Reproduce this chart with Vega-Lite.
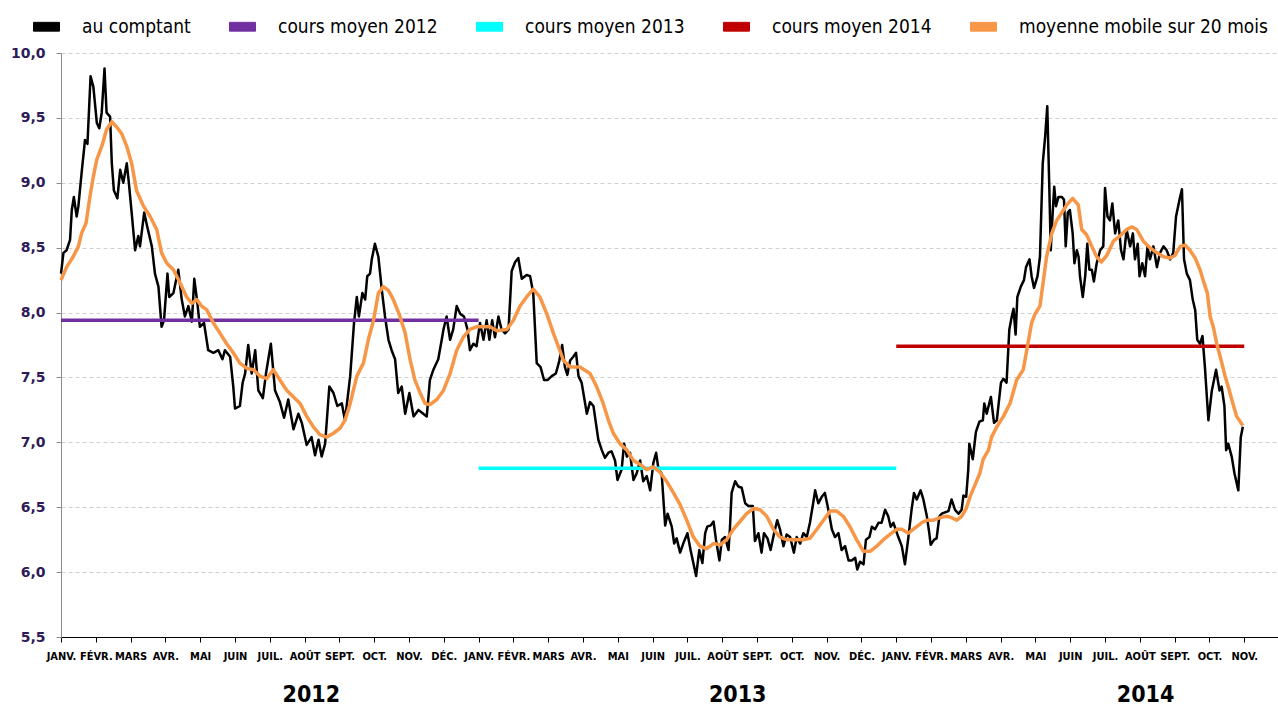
{
"$schema": "https://vega.github.io/schema/vega-lite/v6.json",
"width": 1217, "height": 584,
"autosize": {"type": "none"},
"padding": {"left": 61, "top": 53, "right": 0, "bottom": 69},
"background": "white",
"config": {"view": {"stroke": null}, "font": "DejaVu Sans",
"legend": {"orient": "none", "legendX": -28, "legendY": -40, "direction": "horizontal", "columns": 5, "title": null,
"symbolType": "M-1,-0.34H1V0.34H-1Z", "symbolSize": 676, "symbolStrokeColor": "#000000", "symbolStrokeWidth": 1,
"labelFont": "DejaVu Sans Condensed", "labelFontSize": 19, "labelColor": "#000000",
"labelOffset": 22, "columnPadding": 36, "labelLimit": 400}},
"datasets": {
"comptant": [
{"mois":0,"cours":8.30},{"mois":0.07,"cours":8.46},{"mois":0.16,"cours":8.48},{"mois":0.26,"cours":8.56},{"mois":0.31,"cours":8.79},{"mois":0.37,"cours":8.89},{"mois":0.45,"cours":8.74},{"mois":0.50,"cours":8.82},{"mois":0.59,"cours":9.07},{"mois":0.69,"cours":9.33},{"mois":0.76,"cours":9.30},{"mois":0.81,"cours":9.59},{"mois":0.85,"cours":9.82},{"mois":0.93,"cours":9.74},{"mois":1.03,"cours":9.46},{"mois":1.10,"cours":9.42},{"mois":1.17,"cours":9.54},{"mois":1.25,"cours":9.88},{"mois":1.31,"cours":9.54},{"mois":1.41,"cours":9.51},{"mois":1.46,"cours":9.15},{"mois":1.52,"cours":8.94},{"mois":1.62,"cours":8.88},{"mois":1.70,"cours":9.10},{"mois":1.79,"cours":9.00},{"mois":1.89,"cours":9.15},{"mois":1.95,"cours":9.00},{"mois":2.03,"cours":8.77},{"mois":2.13,"cours":8.48},{"mois":2.22,"cours":8.59},{"mois":2.27,"cours":8.51},{"mois":2.39,"cours":8.77},{"mois":2.48,"cours":8.66},{"mois":2.61,"cours":8.51},{"mois":2.70,"cours":8.30},{"mois":2.80,"cours":8.20},{"mois":2.89,"cours":7.89},{"mois":2.96,"cours":7.94},{"mois":3.06,"cours":8.30},{"mois":3.11,"cours":8.12},{"mois":3.23,"cours":8.15},{"mois":3.37,"cours":8.33},{"mois":3.47,"cours":8.10},{"mois":3.56,"cours":7.97},{"mois":3.66,"cours":8.05},{"mois":3.76,"cours":7.93},{"mois":3.83,"cours":8.26},{"mois":3.92,"cours":8.07},{"mois":3.99,"cours":7.89},{"mois":4.11,"cours":7.92},{"mois":4.23,"cours":7.71},{"mois":4.38,"cours":7.69},{"mois":4.52,"cours":7.71},{"mois":4.64,"cours":7.64},{"mois":4.71,"cours":7.71},{"mois":4.86,"cours":7.66},{"mois":4.95,"cours":7.43},{"mois":5.00,"cours":7.26},{"mois":5.14,"cours":7.28},{"mois":5.22,"cours":7.46},{"mois":5.29,"cours":7.53},{"mois":5.38,"cours":7.75},{"mois":5.48,"cours":7.53},{"mois":5.58,"cours":7.71},{"mois":5.67,"cours":7.40},{"mois":5.80,"cours":7.34},{"mois":5.89,"cours":7.53},{"mois":6.03,"cours":7.76},{"mois":6.15,"cours":7.40},{"mois":6.29,"cours":7.31},{"mois":6.41,"cours":7.19},{"mois":6.53,"cours":7.33},{"mois":6.68,"cours":7.10},{"mois":6.82,"cours":7.22},{"mois":6.92,"cours":7.15},{"mois":7.06,"cours":6.98},{"mois":7.20,"cours":7.04},{"mois":7.30,"cours":6.90},{"mois":7.40,"cours":7.02},{"mois":7.49,"cours":6.89},{"mois":7.59,"cours":6.99},{"mois":7.71,"cours":7.43},{"mois":7.83,"cours":7.38},{"mois":7.94,"cours":7.28},{"mois":8.07,"cours":7.30},{"mois":8.16,"cours":7.17},{"mois":8.31,"cours":7.51},{"mois":8.42,"cours":7.92},{"mois":8.50,"cours":8.12},{"mois":8.56,"cours":7.97},{"mois":8.66,"cours":8.15},{"mois":8.74,"cours":8.10},{"mois":8.80,"cours":8.28},{"mois":8.88,"cours":8.30},{"mois":8.93,"cours":8.41},{"mois":9.02,"cours":8.53},{"mois":9.12,"cours":8.43},{"mois":9.22,"cours":8.17},{"mois":9.31,"cours":7.97},{"mois":9.41,"cours":7.79},{"mois":9.50,"cours":7.71},{"mois":9.60,"cours":7.64},{"mois":9.69,"cours":7.38},{"mois":9.79,"cours":7.43},{"mois":9.89,"cours":7.22},{"mois":10.01,"cours":7.38},{"mois":10.13,"cours":7.20},{"mois":10.27,"cours":7.25},{"mois":10.41,"cours":7.22},{"mois":10.51,"cours":7.20},{"mois":10.60,"cours":7.48},{"mois":10.70,"cours":7.56},{"mois":10.84,"cours":7.64},{"mois":10.94,"cours":7.79},{"mois":10.99,"cours":7.87},{"mois":11.08,"cours":7.97},{"mois":11.18,"cours":7.79},{"mois":11.27,"cours":7.87},{"mois":11.37,"cours":8.05},{"mois":11.47,"cours":7.99},{"mois":11.58,"cours":7.97},{"mois":11.68,"cours":7.87},{"mois":11.75,"cours":7.71},{"mois":11.85,"cours":7.76},{"mois":11.94,"cours":7.74},
{"mois":12.04,"cours":7.92},{"mois":12.14,"cours":7.79},{"mois":12.23,"cours":7.94},{"mois":12.31,"cours":7.79},{"mois":12.39,"cours":7.94},{"mois":12.47,"cours":7.81},{"mois":12.57,"cours":7.97},{"mois":12.66,"cours":7.87},{"mois":12.76,"cours":7.84},{"mois":12.86,"cours":7.87},{"mois":12.95,"cours":8.32},{"mois":13.05,"cours":8.39},{"mois":13.14,"cours":8.42},{"mois":13.24,"cours":8.26},{"mois":13.38,"cours":8.29},{"mois":13.48,"cours":8.28},{"mois":13.57,"cours":8.15},{"mois":13.67,"cours":7.61},{"mois":13.78,"cours":7.58},{"mois":13.88,"cours":7.48},{"mois":13.98,"cours":7.48},{"mois":14.10,"cours":7.51},{"mois":14.22,"cours":7.53},{"mois":14.32,"cours":7.63},{"mois":14.40,"cours":7.75},{"mois":14.48,"cours":7.58},{"mois":14.55,"cours":7.52},{"mois":14.63,"cours":7.63},{"mois":14.72,"cours":7.66},{"mois":14.80,"cours":7.69},{"mois":14.87,"cours":7.51},{"mois":14.96,"cours":7.46},{"mois":15.11,"cours":7.22},{"mois":15.20,"cours":7.31},{"mois":15.30,"cours":7.28},{"mois":15.37,"cours":7.15},{"mois":15.44,"cours":7.02},{"mois":15.54,"cours":6.94},{"mois":15.63,"cours":6.88},{"mois":15.73,"cours":6.92},{"mois":15.82,"cours":6.93},{"mois":15.92,"cours":6.86},{"mois":15.99,"cours":6.71},{"mois":16.11,"cours":6.79},{"mois":16.18,"cours":6.99},{"mois":16.26,"cours":6.89},{"mois":16.35,"cours":6.92},{"mois":16.45,"cours":6.71},{"mois":16.54,"cours":6.76},{"mois":16.64,"cours":6.86},{"mois":16.73,"cours":6.70},{"mois":16.83,"cours":6.74},{"mois":16.93,"cours":6.63},{"mois":17.02,"cours":6.84},{"mois":17.10,"cours":6.92},{"mois":17.17,"cours":6.79},{"mois":17.26,"cours":6.76},{"mois":17.36,"cours":6.36},{"mois":17.43,"cours":6.45},{"mois":17.55,"cours":6.35},{"mois":17.62,"cours":6.22},{"mois":17.69,"cours":6.26},{"mois":17.79,"cours":6.15},{"mois":17.88,"cours":6.22},{"mois":18.00,"cours":6.30},{"mois":18.09,"cours":6.17},{"mois":18.17,"cours":6.07},{"mois":18.25,"cours":5.97},{"mois":18.34,"cours":6.17},{"mois":18.43,"cours":6.07},{"mois":18.51,"cours":6.30},{"mois":18.57,"cours":6.35},{"mois":18.67,"cours":6.36},{"mois":18.75,"cours":6.39},{"mois":18.82,"cours":6.25},{"mois":18.92,"cours":6.09},{"mois":18.99,"cours":6.25},{"mois":19.08,"cours":6.27},{"mois":19.18,"cours":6.17},{"mois":19.22,"cours":6.33},{"mois":19.27,"cours":6.61},{"mois":19.37,"cours":6.70},{"mois":19.46,"cours":6.66},{"mois":19.56,"cours":6.65},{"mois":19.66,"cours":6.53},{"mois":19.75,"cours":6.51},{"mois":19.88,"cours":6.51},{"mois":19.94,"cours":6.24},{"mois":20.04,"cours":6.30},{"mois":20.13,"cours":6.15},{"mois":20.20,"cours":6.30},{"mois":20.30,"cours":6.26},{"mois":20.39,"cours":6.17},{"mois":20.49,"cours":6.30},{"mois":20.58,"cours":6.40},{"mois":20.66,"cours":6.33},{"mois":20.76,"cours":6.20},{"mois":20.85,"cours":6.29},{"mois":20.95,"cours":6.27},{"mois":21.06,"cours":6.15},{"mois":21.14,"cours":6.27},{"mois":21.24,"cours":6.22},{"mois":21.33,"cours":6.30},{"mois":21.43,"cours":6.27},{"mois":21.52,"cours":6.38},{"mois":21.60,"cours":6.51},{"mois":21.67,"cours":6.63},{"mois":21.76,"cours":6.53},{"mois":21.86,"cours":6.58},{"mois":21.95,"cours":6.61},{"mois":22.05,"cours":6.48},{"mois":22.15,"cours":6.33},{"mois":22.24,"cours":6.27},{"mois":22.34,"cours":6.30},{"mois":22.43,"cours":6.17},{"mois":22.53,"cours":6.20},{"mois":22.63,"cours":6.09},{"mois":22.72,"cours":6.09},{"mois":22.82,"cours":6.11},{"mois":22.88,"cours":6.02},{"mois":22.96,"cours":6.08},{"mois":23.06,"cours":6.06},{"mois":23.13,"cours":6.25},{"mois":23.23,"cours":6.27},{"mois":23.30,"cours":6.35},{"mois":23.39,"cours":6.33},{"mois":23.49,"cours":6.38},{"mois":23.58,"cours":6.38},{"mois":23.68,"cours":6.48},{"mois":23.77,"cours":6.43},{"mois":23.84,"cours":6.35},
{"mois":23.92,"cours":6.38},{"mois":24.06,"cours":6.27},{"mois":24.16,"cours":6.20},{"mois":24.25,"cours":6.06},{"mois":24.35,"cours":6.27},{"mois":24.44,"cours":6.48},{"mois":24.51,"cours":6.61},{"mois":24.59,"cours":6.56},{"mois":24.70,"cours":6.63},{"mois":24.78,"cours":6.56},{"mois":24.88,"cours":6.43},{"mois":24.95,"cours":6.30},{"mois":24.99,"cours":6.21},{"mois":25.09,"cours":6.25},{"mois":25.16,"cours":6.26},{"mois":25.24,"cours":6.43},{"mois":25.31,"cours":6.45},{"mois":25.40,"cours":6.46},{"mois":25.50,"cours":6.47},{"mois":25.59,"cours":6.56},{"mois":25.69,"cours":6.48},{"mois":25.79,"cours":6.45},{"mois":25.88,"cours":6.48},{"mois":25.93,"cours":6.59},{"mois":26.01,"cours":6.58},{"mois":26.07,"cours":6.79},
{"mois":26.10,"cours":6.99},{"mois":26.20,"cours":6.87},{"mois":26.29,"cours":7.08},{"mois":26.39,"cours":7.16},{"mois":26.49,"cours":7.17},{"mois":26.53,"cours":7.30},{"mois":26.60,"cours":7.22},{"mois":26.72,"cours":7.35},{"mois":26.81,"cours":7.15},{"mois":26.89,"cours":7.17},{"mois":27.01,"cours":7.46},{"mois":27.08,"cours":7.49},{"mois":27.17,"cours":7.46},{"mois":27.25,"cours":7.87},{"mois":27.32,"cours":7.97},{"mois":27.37,"cours":8.03},{"mois":27.43,"cours":7.83},{"mois":27.48,"cours":8.12},{"mois":27.58,"cours":8.20},{"mois":27.67,"cours":8.25},{"mois":27.73,"cours":8.35},{"mois":27.83,"cours":8.41},{"mois":27.89,"cours":8.28},{"mois":27.96,"cours":8.19},{"mois":28.06,"cours":8.28},{"mois":28.13,"cours":8.43},{"mois":28.21,"cours":9.15},{"mois":28.28,"cours":9.36},{"mois":28.34,"cours":9.59},{"mois":28.40,"cours":8.95},{"mois":28.44,"cours":8.48},{"mois":28.50,"cours":8.79},{"mois":28.54,"cours":8.97},{"mois":28.59,"cours":8.82},{"mois":28.66,"cours":8.89},{"mois":28.76,"cours":8.89},{"mois":28.82,"cours":8.87},{"mois":28.87,"cours":8.51},{"mois":28.93,"cours":8.77},{"mois":28.99,"cours":8.79},{"mois":29.07,"cours":8.61},{"mois":29.12,"cours":8.38},{"mois":29.19,"cours":8.48},{"mois":29.24,"cours":8.43},{"mois":29.28,"cours":8.28},{"mois":29.36,"cours":8.12},{"mois":29.43,"cours":8.28},{"mois":29.49,"cours":8.53},{"mois":29.55,"cours":8.33},{"mois":29.62,"cours":8.33},{"mois":29.68,"cours":8.24},{"mois":29.76,"cours":8.38},{"mois":29.86,"cours":8.48},{"mois":29.95,"cours":8.51},{"mois":30.00,"cours":8.96},{"mois":30.07,"cours":8.74},{"mois":30.14,"cours":8.71},{"mois":30.21,"cours":8.84},{"mois":30.29,"cours":8.61},{"mois":30.38,"cours":8.71},{"mois":30.46,"cours":8.48},{"mois":30.53,"cours":8.41},{"mois":30.62,"cours":8.64},{"mois":30.72,"cours":8.51},{"mois":30.80,"cours":8.61},{"mois":30.86,"cours":8.41},{"mois":30.94,"cours":8.53},{"mois":30.99,"cours":8.28},{"mois":31.07,"cours":8.38},{"mois":31.15,"cours":8.28},{"mois":31.22,"cours":8.51},{"mois":31.29,"cours":8.41},{"mois":31.39,"cours":8.51},{"mois":31.49,"cours":8.35},{"mois":31.58,"cours":8.46},{"mois":31.68,"cours":8.51},{"mois":31.77,"cours":8.48},{"mois":31.87,"cours":8.41},{"mois":31.96,"cours":8.46},{"mois":32.04,"cours":8.74},{"mois":32.14,"cours":8.87},{"mois":32.21,"cours":8.95},{"mois":32.27,"cours":8.41},{"mois":32.35,"cours":8.30},{"mois":32.44,"cours":8.25},{"mois":32.52,"cours":8.10},{"mois":32.59,"cours":8.02},{"mois":32.65,"cours":7.79},{"mois":32.73,"cours":7.76},{"mois":32.80,"cours":7.82},{"mois":32.87,"cours":7.58},{"mois":32.97,"cours":7.17},{"mois":33.07,"cours":7.40},{"mois":33.19,"cours":7.56},{"mois":33.29,"cours":7.40},{"mois":33.35,"cours":7.43},{"mois":33.43,"cours":7.28},{"mois":33.48,"cours":6.94},{"mois":33.54,"cours":6.99},{"mois":33.64,"cours":6.89},{"mois":33.72,"cours":6.76},{"mois":33.83,"cours":6.63},{"mois":33.90,"cours":7.04},{"mois":33.96,"cours":7.12}
],
"moyenne": [
{"mois":0,"cours":8.25},{"mois":0.16,"cours":8.35},{"mois":0.35,"cours":8.43},{"mois":0.50,"cours":8.51},{"mois":0.59,"cours":8.61},{"mois":0.72,"cours":8.69},{"mois":0.83,"cours":8.89},{"mois":0.93,"cours":9.05},{"mois":1.03,"cours":9.18},{"mois":1.17,"cours":9.28},{"mois":1.31,"cours":9.41},{"mois":1.46,"cours":9.47},{"mois":1.60,"cours":9.43},{"mois":1.74,"cours":9.38},{"mois":1.89,"cours":9.28},{"mois":2.03,"cours":9.15},{"mois":2.17,"cours":8.94},{"mois":2.37,"cours":8.82},{"mois":2.56,"cours":8.74},{"mois":2.75,"cours":8.64},{"mois":2.89,"cours":8.46},{"mois":3.04,"cours":8.38},{"mois":3.23,"cours":8.33},{"mois":3.42,"cours":8.23},{"mois":3.61,"cours":8.12},{"mois":3.76,"cours":8.07},{"mois":3.90,"cours":8.10},{"mois":4.04,"cours":8.05},{"mois":4.19,"cours":8.02},{"mois":4.38,"cours":7.92},{"mois":4.57,"cours":7.84},{"mois":4.76,"cours":7.76},{"mois":4.95,"cours":7.69},{"mois":5.14,"cours":7.61},{"mois":5.34,"cours":7.57},{"mois":5.53,"cours":7.56},{"mois":5.72,"cours":7.51},{"mois":5.91,"cours":7.49},{"mois":6.10,"cours":7.56},{"mois":6.29,"cours":7.48},{"mois":6.49,"cours":7.40},{"mois":6.68,"cours":7.35},{"mois":6.87,"cours":7.30},{"mois":7.06,"cours":7.20},{"mois":7.25,"cours":7.12},{"mois":7.44,"cours":7.06},{"mois":7.63,"cours":7.04},{"mois":7.83,"cours":7.07},{"mois":8.02,"cours":7.11},{"mois":8.16,"cours":7.17},{"mois":8.31,"cours":7.30},{"mois":8.50,"cours":7.51},{"mois":8.69,"cours":7.61},{"mois":8.83,"cours":7.79},{"mois":8.98,"cours":7.94},{"mois":9.12,"cours":8.15},{"mois":9.26,"cours":8.20},{"mois":9.41,"cours":8.17},{"mois":9.55,"cours":8.10},{"mois":9.74,"cours":7.97},{"mois":9.89,"cours":7.84},{"mois":10.03,"cours":7.64},{"mois":10.17,"cours":7.48},{"mois":10.32,"cours":7.38},{"mois":10.46,"cours":7.30},{"mois":10.60,"cours":7.29},{"mois":10.80,"cours":7.33},{"mois":10.99,"cours":7.40},{"mois":11.18,"cours":7.53},{"mois":11.37,"cours":7.71},{"mois":11.56,"cours":7.81},{"mois":11.75,"cours":7.87},{"mois":11.94,"cours":7.89},
{"mois":12.04,"cours":7.89},{"mois":12.33,"cours":7.89},{"mois":12.52,"cours":7.86},{"mois":12.81,"cours":7.87},{"mois":13.00,"cours":7.94},{"mois":13.19,"cours":8.05},{"mois":13.38,"cours":8.12},{"mois":13.57,"cours":8.18},{"mois":13.76,"cours":8.12},{"mois":13.96,"cours":7.99},{"mois":14.15,"cours":7.84},{"mois":14.29,"cours":7.74},{"mois":14.44,"cours":7.63},{"mois":14.63,"cours":7.58},{"mois":14.91,"cours":7.58},{"mois":15.20,"cours":7.53},{"mois":15.39,"cours":7.43},{"mois":15.58,"cours":7.30},{"mois":15.73,"cours":7.17},{"mois":15.87,"cours":7.07},{"mois":16.06,"cours":6.99},{"mois":16.26,"cours":6.94},{"mois":16.45,"cours":6.86},{"mois":16.64,"cours":6.83},{"mois":16.83,"cours":6.79},{"mois":17.02,"cours":6.81},{"mois":17.21,"cours":6.77},{"mois":17.40,"cours":6.70},{"mois":17.60,"cours":6.61},{"mois":17.79,"cours":6.52},{"mois":17.98,"cours":6.40},{"mois":18.17,"cours":6.27},{"mois":18.36,"cours":6.20},{"mois":18.55,"cours":6.18},{"mois":18.75,"cours":6.22},{"mois":18.94,"cours":6.21},{"mois":19.13,"cours":6.25},{"mois":19.32,"cours":6.33},{"mois":19.51,"cours":6.39},{"mois":19.70,"cours":6.45},{"mois":19.90,"cours":6.49},{"mois":20.09,"cours":6.48},{"mois":20.28,"cours":6.43},{"mois":20.47,"cours":6.33},{"mois":20.66,"cours":6.27},{"mois":20.85,"cours":6.25},{"mois":21.14,"cours":6.25},{"mois":21.33,"cours":6.25},{"mois":21.52,"cours":6.26},{"mois":21.72,"cours":6.33},{"mois":21.91,"cours":6.40},{"mois":22.10,"cours":6.47},{"mois":22.29,"cours":6.47},{"mois":22.48,"cours":6.43},{"mois":22.67,"cours":6.35},{"mois":22.86,"cours":6.25},{"mois":23.06,"cours":6.16},{"mois":23.25,"cours":6.16},{"mois":23.44,"cours":6.20},{"mois":23.63,"cours":6.25},{"mois":23.82,"cours":6.29},{"mois":24.01,"cours":6.33},{"mois":24.16,"cours":6.33},{"mois":24.35,"cours":6.30},{"mois":24.54,"cours":6.34},{"mois":24.73,"cours":6.38},{"mois":24.88,"cours":6.40},{"mois":25.07,"cours":6.40},{"mois":25.26,"cours":6.42},{"mois":25.45,"cours":6.43},{"mois":25.59,"cours":6.42},{"mois":25.74,"cours":6.40},{"mois":25.88,"cours":6.43},{"mois":26.01,"cours":6.49},{"mois":26.12,"cours":6.58},{"mois":26.26,"cours":6.67},{"mois":26.40,"cours":6.76},{"mois":26.50,"cours":6.87},{"mois":26.65,"cours":6.94},{"mois":26.74,"cours":7.04},{"mois":26.89,"cours":7.12},{"mois":27.08,"cours":7.20},{"mois":27.27,"cours":7.30},{"mois":27.46,"cours":7.48},{"mois":27.65,"cours":7.56},{"mois":27.75,"cours":7.71},{"mois":27.89,"cours":7.92},{"mois":27.99,"cours":7.99},{"mois":28.13,"cours":8.05},{"mois":28.23,"cours":8.25},{"mois":28.32,"cours":8.43},{"mois":28.47,"cours":8.61},{"mois":28.61,"cours":8.71},{"mois":28.76,"cours":8.77},{"mois":28.90,"cours":8.83},{"mois":29.07,"cours":8.88},{"mois":29.23,"cours":8.83},{"mois":29.33,"cours":8.64},{"mois":29.47,"cours":8.60},{"mois":29.62,"cours":8.51},{"mois":29.76,"cours":8.43},{"mois":29.90,"cours":8.39},{"mois":30.05,"cours":8.44},{"mois":30.24,"cours":8.55},{"mois":30.43,"cours":8.59},{"mois":30.62,"cours":8.64},{"mois":30.77,"cours":8.66},{"mois":30.91,"cours":8.64},{"mois":31.10,"cours":8.55},{"mois":31.29,"cours":8.50},{"mois":31.49,"cours":8.46},{"mois":31.68,"cours":8.43},{"mois":31.87,"cours":8.42},{"mois":32.01,"cours":8.44},{"mois":32.16,"cours":8.51},{"mois":32.30,"cours":8.52},{"mois":32.44,"cours":8.48},{"mois":32.59,"cours":8.42},{"mois":32.73,"cours":8.33},{"mois":32.83,"cours":8.24},{"mois":32.94,"cours":8.15},{"mois":33.02,"cours":7.97},{"mois":33.11,"cours":7.89},{"mois":33.21,"cours":7.76},{"mois":33.31,"cours":7.66},{"mois":33.45,"cours":7.51},{"mois":33.54,"cours":7.43},{"mois":33.64,"cours":7.33},{"mois":33.78,"cours":7.20},{"mois":33.96,"cours":7.13}
],
"moyens": [
{"serie":"cours moyen 2012","debut":0,"fin":12,"valeur":7.94},
{"serie":"cours moyen 2013","debut":12,"fin":24,"valeur":6.80},
{"serie":"cours moyen 2014","debut":24,"fin":34,"valeur":7.74}
]
},
"layer": [
{
"data": {"name": "comptant"},
"mark": {"type": "line", "strokeWidth": 2.5, "strokeJoin": "round"},
"encoding": {
"x": {"field": "mois", "type": "quantitative",
"scale": {"domain": [0, 34.97], "nice": false, "zero": false},
"axis": {"orient": "bottom", "values": [0,1,2,3,4,5,6,7,8,9,10,11,12,13,14,15,16,17,18,19,20,21,22,23,24,25,26,27,28,29,30,31,32,33,34],
"labelExpr": "['JANV.','FÉVR.','MARS','AVR.','MAI','JUIN','JUIL.','AOÛT','SEPT.','OCT.','NOV.','DÉC.'][datum.value % 12]",
"title": null, "grid": false, "domainColor": "#000000", "domainWidth": 1, "tickColor": "#000000", "tickSize": 5,
"labelFont": "DejaVu Sans Condensed", "labelFontWeight": "bold", "labelFontSize": 11, "labelColor": "#000000",
"labelPadding": 8, "labelOverlap": false, "labelFlush": false}},
"y": {"field": "cours", "type": "quantitative",
"scale": {"domain": [5.5, 10], "nice": false, "zero": false},
"axis": {"values": [5.5,6,6.5,7,7.5,8,8.5,9,9.5,10],
"labelExpr": "replace(format(datum.value,'.1f'),'.',',')",
"title": null, "grid": true, "gridColor": "#d0d0d0", "gridDash": [4,3], "gridWidth": 1,
"domainColor": "#8c8c8c", "tickColor": "#8c8c8c", "tickSize": 5,
"labelFont": "DejaVu Sans", "labelFontWeight": "bold", "labelFontSize": 14, "labelColor": "#2e1a57", "labelPadding": 11}},
"color": {"datum": "au comptant", "type": "nominal", "title": null,
"scale": {"domain": ["au comptant","cours moyen 2012","cours moyen 2013","cours moyen 2014","moyenne mobile sur 20 mois"],
"range": ["#000000","#7030A0","#00FFFF","#C00000","#F79646"]},
"legend": {"title": null, "symbolType": "M-1,-0.34H1V0.34H-1Z", "symbolSize": 676,
"encode": {"symbols": {"update": {"fill": {"scale": "color", "field": "value"}, "stroke": {"value": "#000000"}, "strokeWidth": {"value": 1}, "opacity": {"value": 1}}}}}}
}
},
{
"data": {"name": "moyens"},
"mark": {"type": "rule", "strokeWidth": 3.5},
"encoding": {
"x": {"field": "debut", "type": "quantitative",
"axis": {"orient": "bottom", "values": [7.18, 19.43, 31.15],
"labelExpr": "datum.value < 12 ? '2012' : (datum.value < 24 ? '2013' : '2014')",
"title": null, "domain": false, "ticks": false, "grid": false,
"labelFont": "DejaVu Sans Condensed", "labelFontWeight": "bold", "labelFontSize": 23, "labelColor": "#000000",
"labelPadding": 46, "labelOverlap": false, "labelFlush": false}},
"x2": {"field": "fin"},
"y": {"field": "valeur", "type": "quantitative"},
"color": {"field": "serie", "type": "nominal", "title": null,
"legend": {"title": null, "symbolType": "M-1,-0.34H1V0.34H-1Z", "symbolSize": 676,
"encode": {"symbols": {"update": {"fill": {"scale": "color", "field": "value"}, "stroke": {"value": "#000000"}, "strokeWidth": {"value": 1}, "opacity": {"value": 1}}}}}}
}
},
{
"data": {"name": "moyenne"},
"mark": {"type": "line", "strokeWidth": 3.5, "strokeJoin": "round"},
"encoding": {
"x": {"field": "mois", "type": "quantitative", "axis": null},
"y": {"field": "cours", "type": "quantitative"},
"color": {"datum": "moyenne mobile sur 20 mois", "type": "nominal", "title": null,
"legend": {"title": null, "symbolType": "M-1,-0.34H1V0.34H-1Z", "symbolSize": 676,
"encode": {"symbols": {"update": {"fill": {"scale": "color", "field": "value"}, "stroke": {"value": "#000000"}, "strokeWidth": {"value": 1}, "opacity": {"value": 1}}}}}}
}
}
],
"resolve": {"axis": {"x": "independent"}}
}
